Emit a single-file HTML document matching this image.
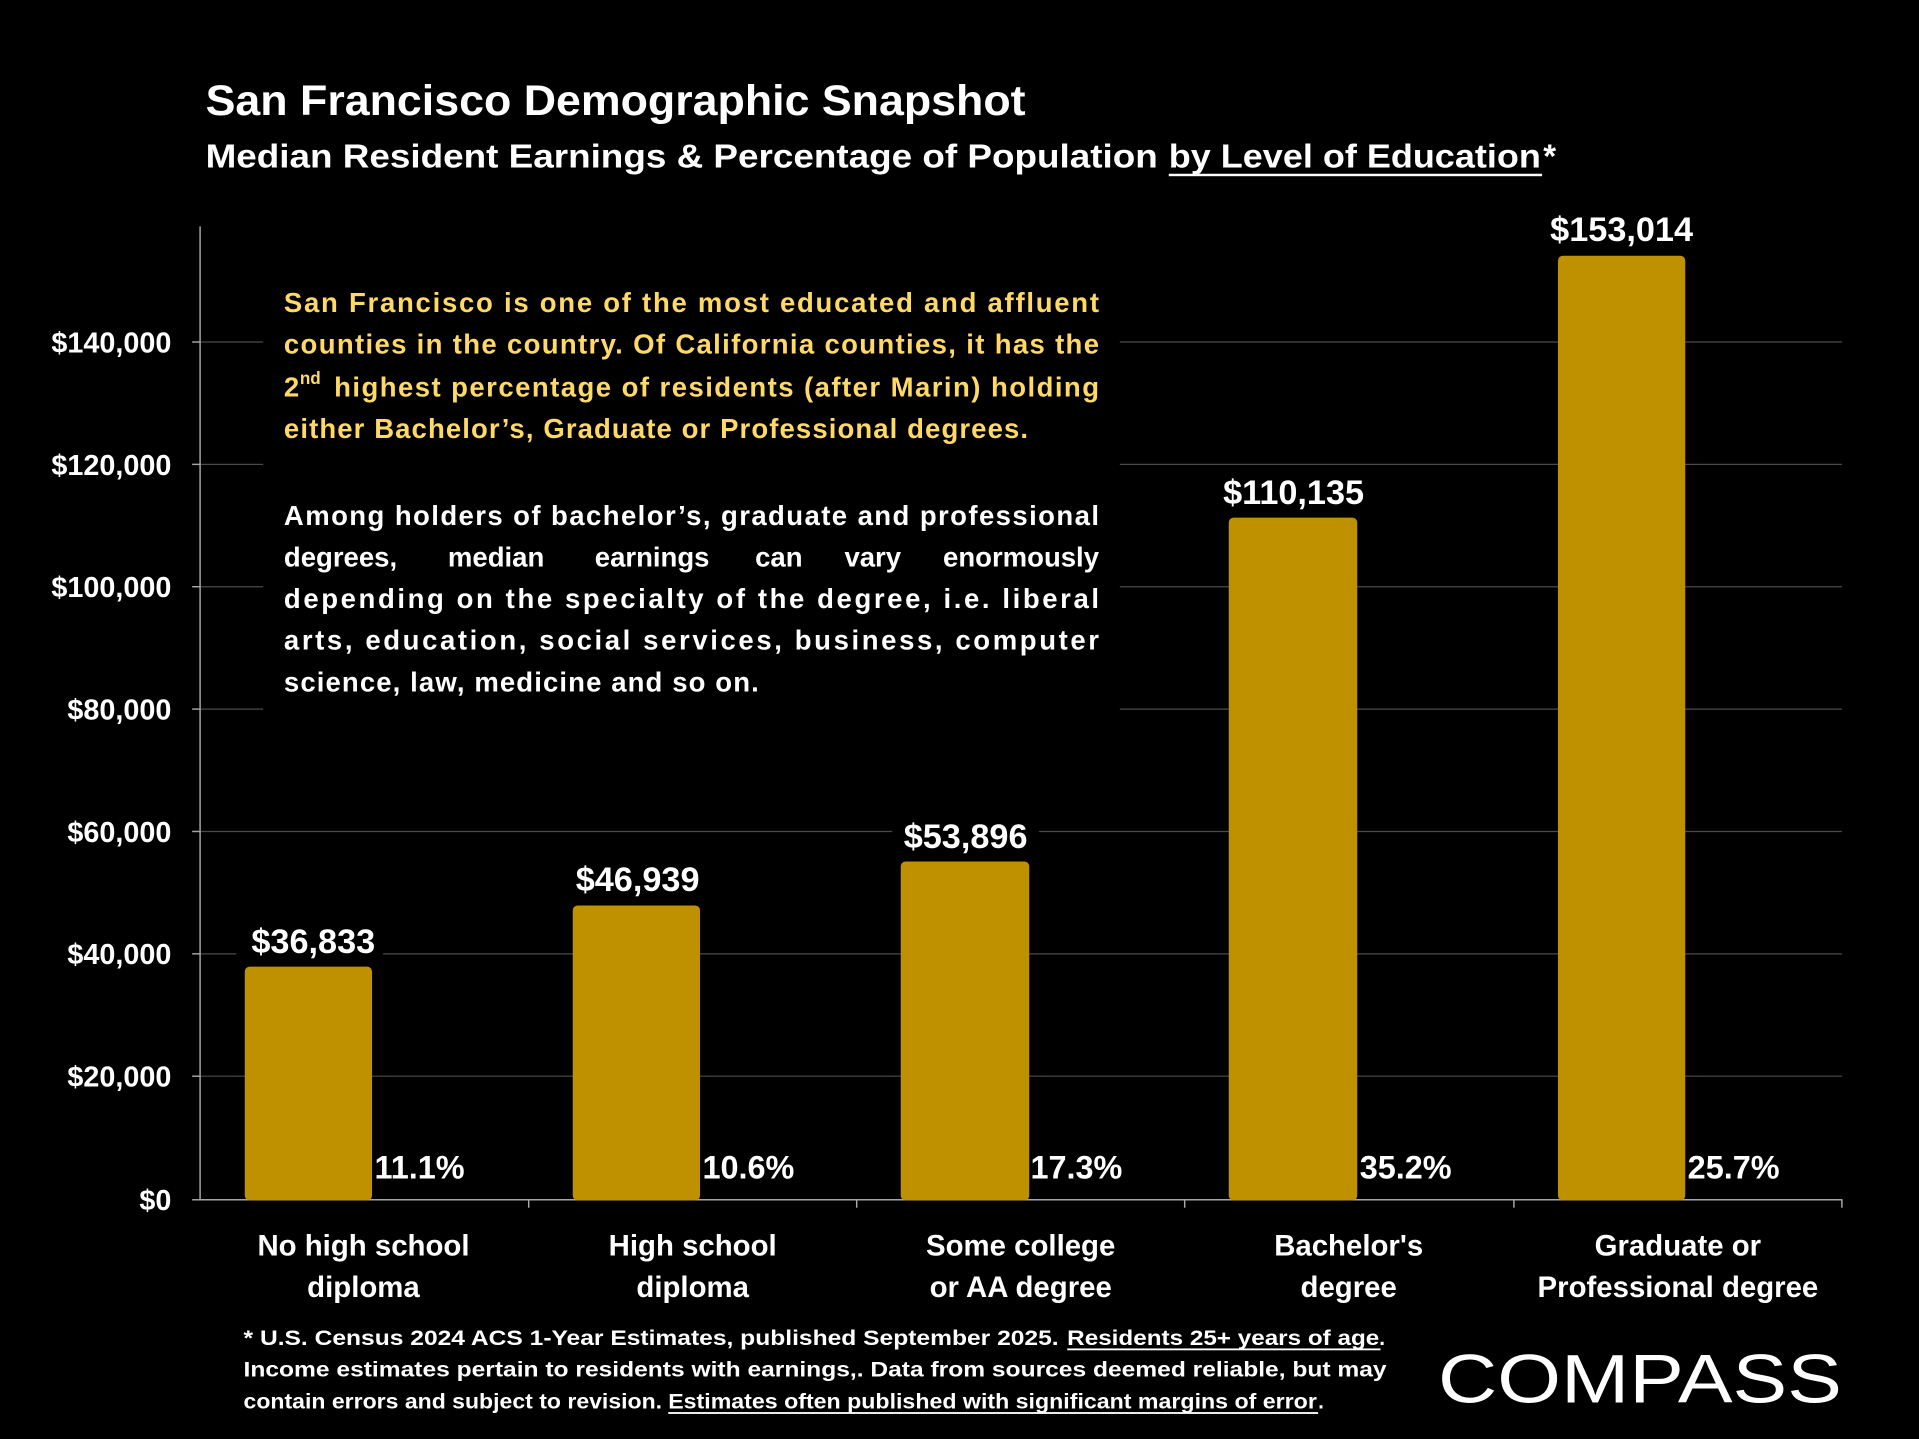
<!DOCTYPE html>
<html><head><meta charset="utf-8"><style>
html,body{margin:0;padding:0;background:#000;}
svg{display:block;}
text{font-family:"Liberation Sans",sans-serif;font-weight:bold;}
</style></head><body>
<svg width="1919" height="1439" viewBox="0 0 1568 1176" preserveAspectRatio="none" xmlns="http://www.w3.org/2000/svg">
<rect width="1568" height="1176" fill="#000"/>
<text x="168" y="94" font-size="35" fill="#fff" textLength="670" lengthAdjust="spacingAndGlyphs">San Francisco Demographic Snapshot</text>
<text x="168" y="137" font-size="27" fill="#fff" textLength="778" lengthAdjust="spacingAndGlyphs">Median Resident Earnings &amp; Percentage of Population</text>
<text x="955" y="137" font-size="27" fill="#fff" textLength="304" lengthAdjust="spacingAndGlyphs">by Level of Education</text>
<text x="1261" y="137" font-size="27" fill="#fff">*</text>
<rect x="955" y="142" width="305" height="2" fill="#fff"/>
<g stroke="#4a4a4a" stroke-width="1">
<line x1="163" y1="279.5" x2="1505" y2="279.5"/>
<line x1="163" y1="379.5" x2="1505" y2="379.5"/>
<line x1="163" y1="479.5" x2="1505" y2="479.5"/>
<line x1="163" y1="579.5" x2="1505" y2="579.5"/>
<line x1="163" y1="679.5" x2="1505" y2="679.5"/>
<line x1="163" y1="779.5" x2="1505" y2="779.5"/>
<line x1="163" y1="879.5" x2="1505" y2="879.5"/>
</g>
<g stroke="#a6a6a6" stroke-width="1.2">
<line x1="163.5" y1="185" x2="163.5" y2="980"/>
<line x1="163" y1="980.5" x2="1505" y2="980.5"/>
<line x1="157" y1="279.5" x2="163" y2="279.5"/><line x1="157" y1="379.5" x2="163" y2="379.5"/>
<line x1="157" y1="479.5" x2="163" y2="479.5"/><line x1="157" y1="579.5" x2="163" y2="579.5"/>
<line x1="157" y1="679.5" x2="163" y2="679.5"/><line x1="157" y1="779.5" x2="163" y2="779.5"/>
<line x1="157" y1="879.5" x2="163" y2="879.5"/><line x1="157" y1="980.5" x2="163" y2="980.5"/>
<line x1="432" y1="980" x2="432" y2="987"/><line x1="700" y1="980" x2="700" y2="987"/>
<line x1="968" y1="980" x2="968" y2="987"/><line x1="1237" y1="980" x2="1237" y2="987"/>
<line x1="1505" y1="980" x2="1505" y2="987"/>
</g>
<g font-size="23.5" fill="#fff" text-anchor="end">
<text x="140" y="288">$140,000</text>
<text x="140" y="388">$120,000</text>
<text x="140" y="488">$100,000</text>
<text x="140" y="588">$80,000</text>
<text x="140" y="688">$60,000</text>
<text x="140" y="788">$40,000</text>
<text x="140" y="888">$20,000</text>
<text x="140" y="989">$0</text>
</g>
<rect x="215" y="225" width="700" height="356" fill="#000"/>
<g font-size="22.5" fill="#ffd966">
<text x="232" y="255" textLength="666" lengthAdjust="spacing">San Francisco is one of the most educated and affluent</text>
<text x="232" y="289" textLength="666" lengthAdjust="spacing">counties in the country. Of California counties, it has the</text>
<text x="232" y="324">2</text>
<text x="245" y="314" font-size="14">nd</text>
<text x="273" y="324" textLength="625" lengthAdjust="spacing">highest percentage of residents (after Marin) holding</text>
<text x="232" y="358" textLength="608" lengthAdjust="spacing">either Bachelor’s, Graduate or Professional degrees.</text>
</g>
<g font-size="22.5" fill="#fff">
<text x="232" y="429" textLength="666" lengthAdjust="spacing">Among holders of bachelor’s, graduate and professional</text>
<text x="232" y="463">degrees,</text>
<text x="366" y="463">median</text>
<text x="486" y="463">earnings</text>
<text x="617" y="463">can</text>
<text x="690" y="463">vary</text>
<text x="898" y="463" text-anchor="end">enormously</text>
<text x="232" y="497" textLength="666" lengthAdjust="spacing">depending on the specialty of the degree, i.e. liberal</text>
<text x="232" y="531" textLength="666" lengthAdjust="spacing">arts, education, social services, business, computer</text>
<text x="232" y="565" textLength="388" lengthAdjust="spacing">science, law, medicine and so on.</text>
</g>
<g fill="#bf9000">
<rect x="200" y="790" width="104" height="191" rx="4"/>
<rect x="468" y="740" width="104" height="241" rx="4"/>
<rect x="736" y="704" width="105" height="277" rx="4"/>
<rect x="1004" y="423" width="105" height="558" rx="4"/>
<rect x="1273" y="209" width="104" height="772" rx="4"/>
</g>
<g fill="#000">
<rect x="193" y="750" width="120" height="34"/>
<rect x="461" y="700" width="120" height="34"/>
<rect x="729" y="665" width="120" height="34"/>
<rect x="990" y="383" width="132" height="34"/>
<rect x="1259" y="170" width="132" height="34"/>
</g>
<g font-size="28" fill="#fff" text-anchor="middle">
<text x="256" y="779">$36,833</text>
<text x="521" y="728">$46,939</text>
<text x="789" y="693">$53,896</text>
<text x="1057" y="412">$110,135</text>
<text x="1325" y="197">$153,014</text>
</g>
<g font-size="26.5" fill="#fff">
<text x="306" y="963">11.1%</text>
<text x="574" y="963">10.6%</text>
<text x="842" y="963">17.3%</text>
<text x="1111" y="963">35.2%</text>
<text x="1379" y="963">25.7%</text>
</g>
<g font-size="24" fill="#fff" text-anchor="middle">
<text x="297" y="1026">No high school</text><text x="297" y="1060">diploma</text>
<text x="566" y="1026">High school</text><text x="566" y="1060">diploma</text>
<text x="834" y="1026">Some college</text><text x="834" y="1060">or AA degree</text>
<text x="1102" y="1026">Bachelor's</text><text x="1102" y="1060">degree</text>
<text x="1371" y="1026">Graduate or</text><text x="1371" y="1060">Professional degree</text>
</g>
<g font-size="17" fill="#fff">
<text x="199" y="1099" textLength="666" lengthAdjust="spacingAndGlyphs">* U.S. Census 2024 ACS 1-Year Estimates, published September 2025.</text>
<text x="872" y="1099" textLength="255" lengthAdjust="spacingAndGlyphs">Residents 25+ years of age</text>
<text x="1127" y="1099">.</text>
<text x="199" y="1125" textLength="934" lengthAdjust="spacingAndGlyphs">Income estimates pertain to residents with earnings,. Data from sources deemed reliable, but may</text>
<text x="199" y="1151" textLength="342" lengthAdjust="spacingAndGlyphs">contain errors and subject to revision.</text>
<text x="546" y="1151" textLength="530" lengthAdjust="spacingAndGlyphs">Estimates often published with significant margins of error</text>
<text x="1077" y="1151">.</text>
<rect x="872" y="1102" width="256" height="1.5" fill="#fff"/>
<rect x="546" y="1154" width="531" height="1.5" fill="#fff"/>
</g>
<text x="1175" y="1146" font-size="56" style="font-weight:normal" fill="#fff" textLength="330" lengthAdjust="spacingAndGlyphs">COMPASS</text>
</svg>
</body></html>
